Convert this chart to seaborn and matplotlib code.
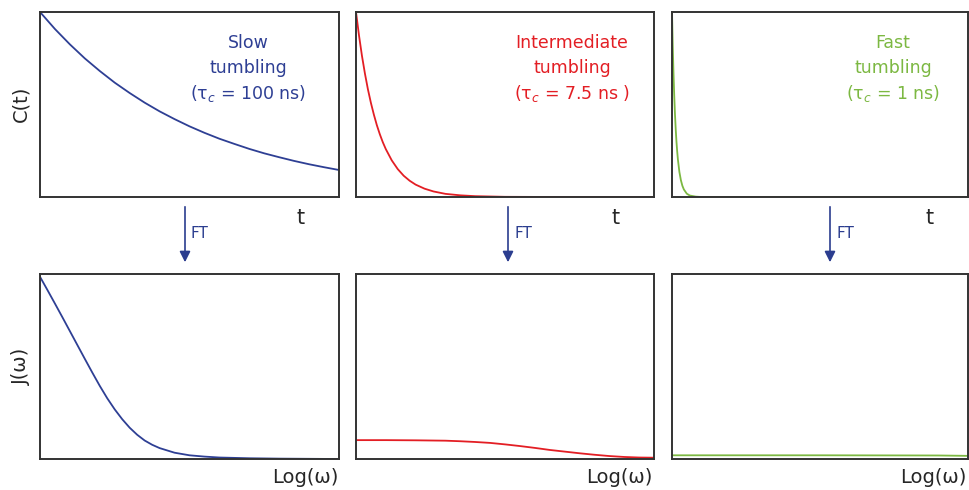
import numpy as np
import matplotlib.pyplot as plt
import seaborn as sns

# === DATA (fractions of each panel) ===
slow_t = [0, .05, .10, .15, .20, .25, .30, .35, .40, .45, .50,
          .55, .60, .65, .70, .75, .80, .85, .90, .95, 1.0]
slow_c = [1.000, .908, .825, .749, .681, .618, .562, .510, .463, .421, .382,
          .347, .315, .287, .260, .236, .215, .195, .177, .161, .146]

mid_t = [0, .01, .02, .03, .04, .05, .06, .07, .08, .09, .10, .12, .14,
         .16, .18, .20, .23, .26, .30, .35, .40, .50, .70, 1.0]
mid_c = [1.000, .874, .763, .667, .582, .509, .445, .388, .339, .296, .259, .198, .151,
         .115, .088, .067, .045, .030, .017, .009, .0045, .001, 0, 0]

fast_t = [0, .0025, .005, .0075, .01, .0125, .015, .0175, .02, .025, .03,
          .035, .04, .05, .06, .08, .10, 1.0]
fast_c = [1.000, .819, .670, .549, .449, .368, .301, .247, .202, .135, .091,
          .061, .041, .018, .008, .002, 0, 0]

slow_w = [0, .025, .05, .075, .10, .125, .15, .175, .20, .225, .25, .275, .30,
          .325, .35, .375, .40, .45, .50, .55, .60, .70, .80, .90, 1.0]
slow_j = [.985, .913, .840, .766, .691, .616, .541, .467, .395, .328, .268, .215, .169,
          .131, .100, .077, .059, .034, .020, .013, .008, .004, .002, .001, 0]

mid_w = [0, .1, .2, .3, .35, .4, .45, .5, .55, .6, .65, .7, .75, .8, .85, .9, .95, 1.0]
mid_j = [.102, .102, .101, .099, .096, .092, .087, .079, .070, .060, .049, .040,
         .031, .023, .016, .011, .008, .007]

fast_w = [0, .5, .9, 1.0]
fast_j = [.02, .02, .019, .017]

titles = [["Slow", "tumbling", "(τ$_{c}$ = 100 ns)"],
          ["Intermediate", "tumbling", "(τ$_{c}$ = 7.5 ns )"],
          ["Fast", "tumbling", "(τ$_{c}$ = 1 ns)"]]
colors = ["#2e3f94", "#e31e24", "#7cb842"]

sns.set_style("white")
plt.rcParams["font.family"] = ["DejaVu Sans"]

W, H = 969, 490
fig = plt.figure(figsize=(W / 100, H / 100), dpi=100)

lefts = [40, 356, 672]
widths = [299, 298, 296]
top_row = (12, 197)
bot_row = (274, 459)


def px_axes(x0, w, y0, y1):
    return fig.add_axes([x0 / W, 1 - y1 / H, w / W, (y1 - y0) / H])


curves_top = [(slow_t, slow_c), (mid_t, mid_c), (fast_t, fast_c)]
curves_bot = [(slow_w, slow_j), (mid_w, mid_j), (fast_w, fast_j)]

for i in range(3):
    ax_t = px_axes(lefts[i], widths[i], *top_row)
    ax_b = px_axes(lefts[i], widths[i], *bot_row)
    for ax, (xs, ys) in [(ax_t, curves_top[i]), (ax_b, curves_bot[i])]:
        sns.lineplot(x=xs, y=ys, ax=ax, color=colors[i], lw=1.3)
        ax.set_xlim(0, 1)
        ax.set_ylim(0, 1)
        ax.set_xticks([])
        ax.set_yticks([])
        for s in ax.spines.values():
            s.set_color("#333333")
            s.set_linewidth(1.4)

    # coloured labels
    cx = [248, 572, 893][i]
    for k, line in enumerate(titles[i]):
        fig.text(cx / W, 1 - (43 + 25 * k) / H, line, color=colors[i],
                 fontsize=12.5, ha="center", va="center")

    # axis names
    rx = lefts[i] + widths[i]
    fig.text((rx - 38) / W, 1 - 218 / H, "t", fontsize=15, ha="center", va="center")
    fig.text((rx - 1) / W, 1 - 477 / H, "Log(ω)", fontsize=14, ha="right", va="center")

    # FT arrow
    axx = [185, 508, 830][i]
    fig.add_artist(plt.matplotlib.patches.FancyArrowPatch(
        (axx / W, 1 - 204 / H), (axx / W, 1 - 265 / H), transform=fig.transFigure,
        arrowstyle="-|>", mutation_scale=16, color="#2b3d8f", lw=1.2))
    fig.text((axx + 6) / W, 1 - 234 / H, "FT", color="#2b3d8f", fontsize=11,
             ha="left", va="center")

fig.text(21 / W, 1 - 104 / H, "C(t)", fontsize=14, rotation=90, ha="center", va="center")
fig.text(21 / W, 1 - 366 / H, "J(ω)", fontsize=14, rotation=90, ha="center", va="center")

plt.savefig("out.png", dpi=100)
plt.close()
